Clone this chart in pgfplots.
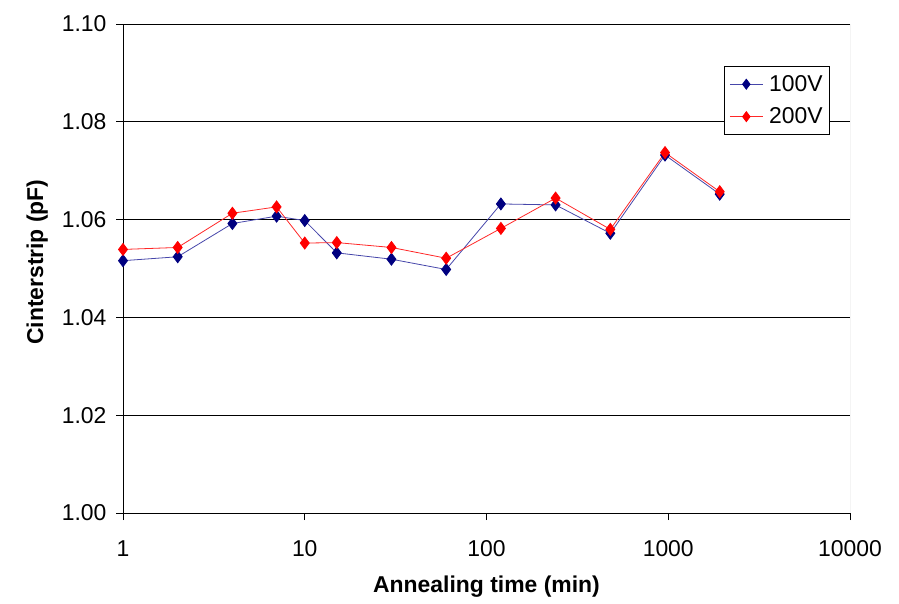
\documentclass[border=0pt]{standalone}
\usepackage{pgfplots}
\pgfplotsset{compat=1.18}
\usepackage{fontspec}
\setmainfont{Liberation Sans}
\definecolor{navy}{RGB}{0,0,128}
\definecolor{navyline}{RGB}{70,70,170}
\definecolor{redline}{RGB}{255,40,40}
\begin{document}
\begin{tikzpicture}[font=\fontsize{23}{27}\selectfont]
\begin{axis}[
  at={(0,0)}, anchor=south west,
  scale only axis, width=727bp, height=489bp,
  xmode=log, log basis x=10, xmin=1, xmax=10000,
  ymin=1.0, ymax=1.1,
  ytick={1.00,1.02,1.04,1.06,1.08,1.10},
  yticklabel style={/pgf/number format/fixed, /pgf/number format/fixed zerofill, /pgf/number format/precision=2, xshift=-6bp},
  xticklabel style={yshift=-17bp},
  /pgf/number format/assume math mode=true,
  xtick={1,10,100,1000,10000}, xticklabels={1,10,100,1000,10000},
  minor xtick={},
  ymajorgrids, grid style={black, line width=0.8bp},
  axis lines*=left, axis line style={black, line width=0.9bp},
  tick align=outside, major tick length=7bp, tick style={black, line width=0.8bp},
  xlabel={\textbf{Annealing time (min)}},
  ylabel={\textbf{Cinterstrip (pF)}},
  xlabel style={at={(axis description cs:0.5,-0.151)}, anchor=center},
  ylabel style={at={(axis description cs:-0.118,0.513)}, anchor=center},
  legend style={at={(rel axis cs:0.8267,0.914)}, anchor=north west, draw=black, fill=white, line width=0.8bp, font=\fontsize{23}{27}\selectfont, row sep=11bp, column sep=4bp, inner xsep=5bp, inner ysep=7bp},
  legend cell align=left,
  legend image code/.code={\draw[mark repeat=2,mark phase=2,mark size=5bp] plot coordinates {(0bp,0bp) (16.5bp,0bp) (33bp,0bp)};},
]
\addplot[color=navyline, line width=0.8bp, mark=diamond*, mark size=6bp, mark options={fill=navy, draw=navy, solid}] coordinates {
(1,1.0516) (2,1.0524) (4,1.0592) (7,1.0607) (10,1.0598) (15,1.0532) (30,1.0519) (60,1.0498) (120,1.0632) (240,1.0630) (480,1.0572) (960,1.0732) (1920,1.0652)};
\addlegendentry{100V}
\addplot[color=redline, line width=0.8bp, mark=diamond*, mark size=6bp, mark options={fill=red, draw=red, solid}] coordinates {
(1,1.0539) (2,1.0543) (4,1.0613) (7,1.0626) (10,1.0552) (15,1.0553) (30,1.0543) (60,1.0521) (120,1.0582) (240,1.0644) (480,1.0580) (960,1.0737) (1920,1.0657)};
\addlegendentry{200V}
\draw[gray!70, line width=0.8bp] (rel axis cs:1,0) -- (rel axis cs:1,1);
\end{axis}
\pgfresetboundingbox
\path (-123bp,-91bp) rectangle (776bp,513bp);
\end{tikzpicture}
\end{document}
